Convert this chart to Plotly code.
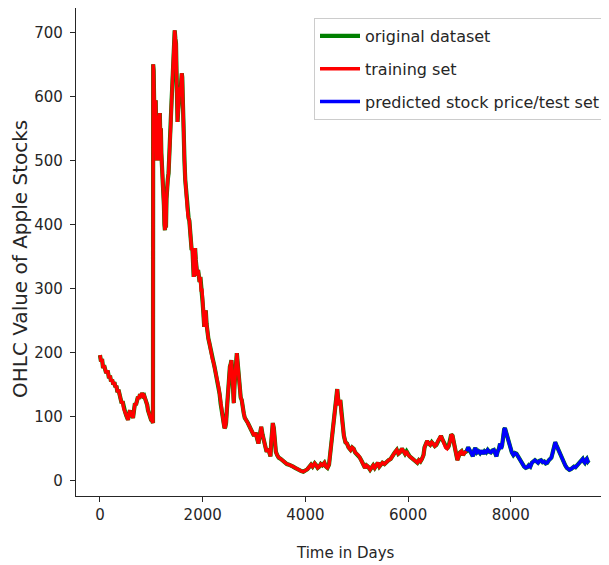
import plotly.graph_objects as go

# training set (days, OHLC average value)
train_days = [0, 20, 40, 60, 80, 100, 120, 150, 175, 195, 215, 235, 260, 280, 300, 320, 340, 360, 380, 400,
              422, 440, 460, 487, 510, 530, 545, 565, 584, 600, 620, 643, 660, 681, 700, 720, 740, 760, 780, 800,
              820, 840, 860, 876, 900, 920, 935, 955, 975, 995, 1015, 1032,
              1036, 1045, 1055, 1065, 1075, 1085, 1095, 1105, 1115, 1125, 1135, 1145, 1155, 1165, 1175, 1185, 1195,
              1210, 1225, 1235, 1245, 1255, 1265, 1275, 1285, 1295, 1305, 1320, 1335, 1350, 1365, 1380, 1395, 1410,
              1425, 1440, 1455, 1468, 1480, 1490, 1500, 1510, 1520, 1535, 1550, 1565, 1580, 1592, 1602, 1612, 1622,
              1632, 1645, 1660, 1672, 1685, 1700, 1712, 1725, 1740, 1755, 1770, 1785, 1800, 1812, 1825, 1840, 1852,
              1865, 1880, 1895, 1910, 1925, 1940, 1955, 1970, 1985, 2000, 2015, 2030, 2045, 2060, 2075, 2090, 2110,
              2130, 2150, 2170, 2190, 2210, 2230, 2250, 2270, 2290, 2310, 2330, 2350, 2370, 2390, 2410, 2425, 2440,
              2455, 2470, 2485, 2500, 2515, 2530, 2545, 2560, 2575, 2590, 2605, 2620, 2635, 2650, 2665, 2680, 2695,
              2710, 2725, 2740, 2760, 2780, 2800, 2820, 2850, 2880, 2910, 2940, 2970, 3000, 3030, 3060, 3085, 3110,
              3140, 3165, 3190, 3215, 3245, 3275, 3300, 3320, 3335, 3350, 3365, 3385, 3405, 3425, 3450, 3480, 3520,
              3560, 3600, 3640, 3680, 3720, 3760, 3800, 3840, 3880, 3920, 3960, 4000, 4040, 4080, 4110, 4140, 4180,
              4210, 4240, 4270, 4300, 4330, 4370, 4400, 4430, 4460, 4480, 4500, 4520, 4540, 4555, 4570, 4590, 4605,
              4620, 4635, 4650, 4665, 4680, 4695, 4710, 4730, 4750, 4780, 4810, 4840, 4880, 4910, 4940, 4970, 5000,
              5030, 5060, 5100, 5130, 5160, 5190, 5220, 5260, 5290, 5320, 5350, 5380, 5410, 5440, 5470, 5500, 5540,
              5580, 5620, 5660, 5700, 5740, 5780, 5810, 5840, 5880, 5910, 5940, 5970, 6000, 6030, 6060, 6090, 6120,
              6150, 6180, 6210, 6240, 6270, 6300, 6320, 6340, 6370, 6400, 6430, 6460, 6490, 6520, 6550, 6580, 6610,
              6640, 6670, 6700, 6730, 6760, 6790, 6820, 6840, 6865, 6890, 6910, 6935, 6960, 6985, 7010, 7040, 7070,
              7100, 7140]
train_vals = [196, 186, 190, 176, 180, 172, 168, 172, 160, 164, 155, 158, 150, 154, 146, 148, 138, 142, 132, 128,
              121, 124, 113, 108, 102, 97, 95, 104, 110, 100, 104, 98, 112, 121, 118, 126, 131, 128, 135, 130,
              137, 132, 133, 129, 124, 118, 110, 104, 100, 95, 94, 90,
              650, 640, 590, 520, 560, 594, 530, 500, 540, 570, 560, 500, 560, 574, 532, 550, 511,
              490, 470, 459, 430, 400, 391, 420, 395, 440, 464, 470, 480, 520, 552, 560, 594, 620,
              650, 680, 703, 690, 683, 640, 600, 560, 574, 590, 614, 600, 620, 636, 630, 599, 545,
              530, 500, 470, 458, 430, 422, 415, 410, 406, 390, 371, 360, 363, 330, 318, 350, 363,
              345, 335, 320, 329, 318, 310, 318, 295, 300, 277, 260, 240, 255, 266, 245, 230, 222,
              215, 205, 199, 190, 185, 178, 170, 160, 152, 146, 135, 120, 110, 100, 88, 82, 84,
              90, 110, 126, 150, 175, 178, 182, 188, 170, 146, 121, 150, 175, 190, 199, 185, 168,
              155, 145, 130, 126, 110, 105, 98, 95, 90, 85, 80, 78, 70, 75, 62, 58, 70,
              84, 72, 64, 55, 45, 50, 42, 38, 60, 80, 90, 82, 62, 45, 40, 36, 34,
              31, 28, 26, 25, 24, 22, 20, 18, 16, 15, 14, 16, 18, 22, 25, 22, 27,
              24, 20, 22, 26, 24, 28, 22, 20, 25, 40, 55, 70, 84, 95, 100, 125, 138,
              143, 130, 118, 122, 126, 110, 100, 80, 70, 60, 58, 52, 48, 52, 50, 44, 42,
              40, 36, 30, 26, 20, 24, 22, 17, 22, 24, 20, 24, 28, 22, 25, 28, 26,
              30, 32, 34, 40, 44, 48, 42, 44, 50, 46, 42, 46, 40, 38, 36, 34, 33,
              30, 28, 32, 30, 34, 40, 52, 58, 62, 58, 56, 60, 58, 54, 56, 62, 66,
              70, 64, 58, 52, 50, 54, 62, 72, 70, 60, 55, 43, 32, 38, 44, 46, 40,
              44, 46]

# predicted stock price / test set
test_days = [7140, 7170, 7200, 7230, 7260, 7290, 7310, 7340, 7370, 7400, 7430, 7460, 7490, 7520, 7550, 7580,
             7610, 7640, 7670, 7700, 7720, 7745, 7770, 7790, 7810, 7830, 7850, 7870, 7885, 7905, 7925, 7950,
             7975, 7995, 8020, 8050, 8080, 8110, 8140, 8170, 8200, 8230, 8260, 8290, 8320, 8350, 8380, 8410,
             8440, 8470, 8500, 8530, 8560, 8590, 8620, 8650, 8680, 8710, 8740, 8770, 8790, 8810, 8830, 8850,
             8865, 8885, 8905, 8930, 8955, 8980, 9005, 9030, 9060, 9090, 9115, 9140, 9170, 9200, 9230, 9260,
             9290, 9320, 9350, 9380, 9400, 9420, 9440, 9460, 9480, 9500, 9520]
test_vals = [46, 52, 48, 42, 38, 48, 51, 44, 46, 43, 47, 42, 46, 44, 48, 45,
             44, 47, 48, 42, 38, 46, 50, 58, 50, 55, 72, 80, 82, 76, 72, 66,
             58, 50, 44, 40, 43, 42, 38, 34, 28, 25, 22, 20, 21, 24, 22, 28,
             30, 32, 30, 28, 31, 32, 29, 30, 27, 28, 32, 34, 36, 42, 50, 58,
             60, 56, 52, 48, 44, 40, 34, 30, 24, 20, 18, 17, 18, 20, 22, 21,
             24, 26, 28, 32, 34, 30, 28, 32, 34, 30, 32]

orig_days = train_days + test_days[1:]
orig_vals = train_vals + test_vals[1:]

x_ticks = [0, 2000, 4000, 6000, 8000]
y_ticks = [0, 100, 200, 300, 400, 500, 600, 700]
x_title = "Time in Days"
y_title = "OHLC Value of Apple Stocks"

font = "DejaVu Sans"
txt = "#262626"
fig = go.Figure()
fig.add_trace(go.Scatter(x=orig_days, y=orig_vals, mode="lines", name="original dataset",
                         line=dict(color="#008000", width=4.2), legendgroup="a"))
fig.add_trace(go.Scatter(x=train_days, y=train_vals, mode="lines", name="training set",
                         line=dict(color="#ff0000", width=3.4), legendgroup="b"))
fig.add_trace(go.Scatter(x=test_days, y=test_vals, mode="lines", name="predicted stock price/test set",
                         line=dict(color="#0000ff", width=3.4), legendgroup="c"))

# page body has an 8px margin: figure 601x557, plot area page x 76..609, y 8..496
PH = 488.0
fig.update_layout(
    width=601, height=557,
    margin=dict(l=68, r=0, t=0, b=69, autoexpand=False),
    paper_bgcolor="white", plot_bgcolor="white",
    font=dict(family=font, size=15, color=txt),
    showlegend=True,
    legend=dict(x=(314 - 76) / 533, y=(496 - 18) / PH, xanchor="left", yanchor="top",
                bgcolor="rgba(255,255,255,0.8)", bordercolor="#cccccc", borderwidth=1,
                font=dict(family=font, size=16, color=txt),
                tracegroupgap=9, traceorder="grouped", itemwidth=40),
    xaxis=dict(range=[-467, 9912], tickvals=x_ticks, ticktext=[str(v) for v in x_ticks],
               showgrid=False, zeroline=False, showline=True, linecolor=txt, linewidth=1.2,
               mirror=True, ticks="outside", ticklen=5, tickcolor=txt, automargin=False,
               tickfont=dict(family=font, size=15, color=txt)),
    yaxis=dict(range=[-23.9, 737.9], tickvals=y_ticks, ticktext=[str(v) for v in y_ticks],
               showgrid=False, zeroline=False, showline=True, linecolor=txt, linewidth=1.2,
               ticks="outside", ticklen=5, tickcolor=txt, automargin=False, ticklabelstandoff=4,
               tickfont=dict(family=font, size=15, color=txt)),
    annotations=[
        dict(text=x_title, xref="paper", yref="paper", x=(345 - 76) / 533, y=(496 - 553) / PH,
             xanchor="center", yanchor="middle", showarrow=False, font=dict(family=font, size=15, color=txt)),
        dict(text=y_title, xref="paper", yref="paper", x=(20 - 76) / 533, y=(496 - 259) / PH,
             xanchor="center", yanchor="middle", textangle=-90, showarrow=False, borderpad=0,
             font=dict(family=font, size=20, color=txt)),
    ],
)
fig.write_html("out.html")
